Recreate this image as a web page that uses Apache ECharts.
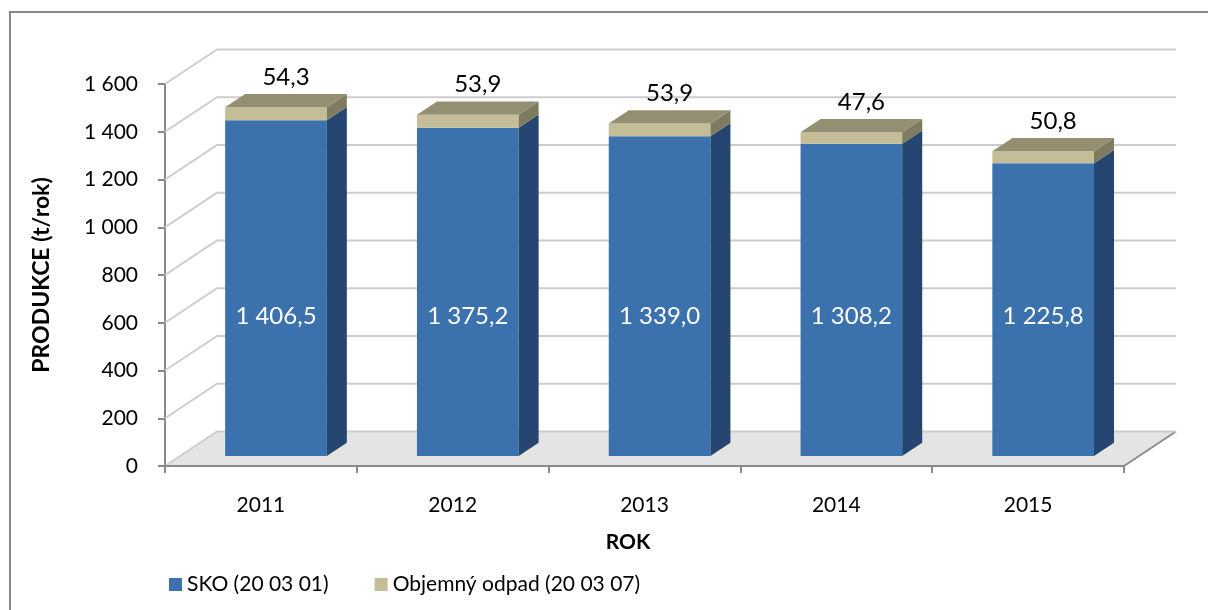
<!DOCTYPE html>
<html>
<head>
<meta charset="utf-8">
<script src="https://cdn.jsdelivr.net/npm/echarts@6/dist/echarts.min.js"></script>
<style>
html, body { margin: 0; padding: 0; background: #fff; }
#chart { width: 1208px; height: 610px; }
</style>
</head>
<body>
<div id="chart"></div>
<script>
const years = ['2011', '2012', '2013', '2014', '2015']
const sko = [1406.5, 1375.2, 1339.0, 1308.2, 1225.8]
const objemny = [54.3, 53.9, 53.9, 47.6, 50.8]
const yTicks = [0, 200, 400, 600, 800, 1000, 1200, 1400, 1600]

// 3D look (Excel style): depth offset of the back wall and bar placement in depth
const DX = 52
const DY = -34.5
const F0 = 0.29 // bar front in depth
const F1 = 0.675 // bar back in depth
const BAR_W = 0.53
const SKO_LABEL_AT = 585 // labels of SKO sit at the same height on all bars

const FONT = 'Lato'
const BLUE = { front: '#3b72ad', side: '#254670', top: '#4a80bb' }
const BEIGE = { front: '#c4bd97', side: '#7f7b60', top: '#948f72' }

function fmt(v, dec) {
  const s = v.toFixed(dec).split('.')
  s[0] = s[0].replace(/\B(?=(\d{3})+(?!\d))/g, ' ')
  return s.join(',')
}

function barItem(colors, withTop, labelFn) {
  return function(params, api) {
    const i = api.value(0)
    const p0 = api.coord([i, api.value(1)])
    const p1 = api.coord([i, api.value(2)])
    const w = api.size([1, 0])[0] * BAR_W
    const sx = (F1 - F0) * DX
    const sy = (F1 - F0) * DY
    const xl = p0[0] - w / 2 + F0 * DX
    const xr = xl + w
    const yb = p0[1] + F0 * DY
    const yt = p1[1] + F0 * DY
    const children = [
      { type: 'rect', shape: { x: xl, y: yt, width: w, height: yb - yt }, style: { fill: colors.front } },
      { type: 'polygon', shape: { points: [[xr, yb], [xr + sx, yb + sy], [xr + sx, yt + sy], [xr, yt]] }, style: { fill: colors.side } }
    ]
    if (withTop) {
      children.push({ type: 'polygon', shape: { points: [[xl, yt], [xr, yt], [xr + sx, yt + sy], [xl + sx, yt + sy]] }, style: { fill: colors.top } })
    }
    children.push(labelFn(i, api, xl, xr, yt, sx, sy))
    return { type: 'group', children: children }
  }
}

const chart = echarts.init(document.getElementById('chart'))
chart.setOption({
  backgroundColor: '#fff',
  textStyle: { fontFamily: FONT, color: '#000' },
  animation: false,
  graphic: [{
    type: 'rect',
    shape: { x: 10, y: 12, width: 1400, height: 800 },
    style: { fill: 'none', stroke: '#888', lineWidth: 2 },
    z: 0
  }],
  grid: { left: 165, right: 84, top: 84, bottom: 144 },
  legend: {
    left: 164,
    top: 569,
    icon: 'rect',
    itemWidth: 13,
    itemHeight: 13,
    itemGap: 46,
    textStyle: { fontFamily: FONT, fontSize: 21, color: '#000' },
    data: ['SKO (20 03 01)', 'Objemný odpad (20 03 07)']
  },
  xAxis: {
    type: 'category',
    data: years,
    z: 5,
    name: 'ROK',
    nameLocation: 'middle',
    nameGap: 66,
    nameTextStyle: { fontFamily: FONT, fontSize: 21, fontWeight: 'bold', color: '#000', padding: [0, 33, 0, 0] },
    axisLine: { lineStyle: { color: '#898989', width: 2 } },
    axisTick: { show: true, length: 7, lineStyle: { color: '#898989', width: 2 } },
    axisLabel: { fontSize: 21, color: '#000', margin: 29 }
  },
  yAxis: {
    type: 'value',
    min: 0,
    max: 1600,
    interval: 200,
    name: 'PRODUKCE (t/rok)',
    nameLocation: 'middle',
    nameRotate: 90,
    nameGap: 112,
    nameTextStyle: { fontFamily: FONT, fontSize: 23, fontWeight: 'bold', color: '#000' },
    axisLine: { show: true, lineStyle: { color: '#898989', width: 2 } },
    axisTick: { show: true, length: 7, lineStyle: { color: '#898989', width: 2 } },
    splitLine: { show: false },
    axisLabel: { fontSize: 21, color: '#000', margin: 27, formatter: v => fmt(v, 0) }
  },
  series: [
    {
      // floor
      type: 'custom',
      silent: true,
      z: 1,
      data: [[0, 0]],
      renderItem: function(params, api) {
        const cs = params.coordSys
        const y = api.coord([0, 0])[1]
        const x0 = cs.x
        const x1 = cs.x + cs.width
        return {
          type: 'group',
          children: [
            { type: 'polygon', shape: { points: [[x0, y], [x1, y], [x1 + DX, y + DY], [x0 + DX, y + DY]] }, style: { fill: '#e4e4e4' } },
            { type: 'line', shape: { x1: x1, y1: y, x2: x1 + DX, y2: y + DY }, style: { stroke: '#8c8c8c', lineWidth: 2 } }
          ]
        }
      }
    },
    {
      // gridlines on left and back walls
      type: 'custom',
      silent: true,
      z: 1,
      data: yTicks.map(v => [0, v]),
      renderItem: function(params, api) {
        const cs = params.coordSys
        const y = api.coord([0, api.value(1)])[1]
        const x0 = cs.x
        const x1 = cs.x + cs.width
        return {
          type: 'polyline',
          shape: { points: [[x0, y], [x0 + DX, y + DY], [x1 + DX, y + DY]] },
          style: { stroke: '#cdcdcd', lineWidth: 2, fill: 'none' }
        }
      }
    },
    {
      name: 'SKO (20 03 01)',
      type: 'custom',
      z: 2,
      itemStyle: { color: BLUE.front },
      encode: { x: 0, y: [1, 2] },
      data: years.map((y, i) => [i, 0, sko[i]]),
      renderItem: barItem(BLUE, false, function(i, api, xl, xr) {
        const yl = api.coord([i, SKO_LABEL_AT])[1] + F0 * DY
        return {
          type: 'text',
          style: { text: fmt(sko[i], 1), x: (xl + xr) / 2, y: yl, align: 'center', verticalAlign: 'middle', fill: '#fff', fontSize: 24, fontFamily: FONT }
        }
      })
    },
    {
      name: 'Objemný odpad (20 03 07)',
      type: 'custom',
      z: 3,
      itemStyle: { color: BEIGE.front },
      encode: { x: 0, y: [1, 2] },
      data: years.map((y, i) => [i, sko[i], sko[i] + objemny[i]]),
      renderItem: barItem(BEIGE, true, function(i, api, xl, xr, yt, sx, sy) {
        return {
          type: 'text',
          style: { text: fmt(objemny[i], 1), x: (xl + xr) / 2 + sx / 2, y: yt + sy - 5, align: 'center', verticalAlign: 'bottom', fill: '#000', fontSize: 24, fontFamily: FONT }
        }
      })
    }
  ]
})
</script>
</body>
</html>
